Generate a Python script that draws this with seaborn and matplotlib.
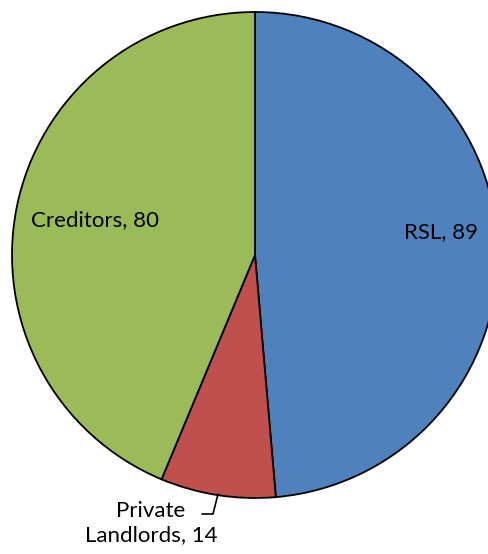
import matplotlib
matplotlib.use("Agg")
import matplotlib.pyplot as plt
import seaborn as sns

# Data
categories = ["RSL", "Private\nLandlords", "Creditors"]
values = [89, 14, 80]
colors = ["#4F81BD", "#C0504D", "#9BBB59"]

sns.set_theme(style="white")
plt.rcParams["font.family"] = ["Lato", "DejaVu Sans"]

fig = plt.figure(figsize=(4.89, 5.54), dpi=100)
ax = fig.add_axes([0, 0, 1, 1])

ax.pie(
    values,
    colors=colors,
    startangle=90,
    counterclock=False,
    center=(255, 299),
    radius=243,
    wedgeprops=dict(edgecolor="black", linewidth=1.3),
    frame=True,
)
ax.set_xlim(0, 489)
ax.set_ylim(0, 554)
ax.set_aspect("equal")
ax.axis("off")

# Labels
ax.text(441, 322, f"{categories[0]}, {values[0]}", ha="center", va="center",
        fontsize=16, color="black")
ax.text(95, 334, f"{categories[2]}, {values[2]}", ha="center", va="center",
        fontsize=16, color="black")
ax.text(151, 31, f"{categories[1]}, {values[1]}", ha="center", va="center",
        fontsize=16, color="black", linespacing=1.3)
ax.plot([218, 213, 202], [60, 40, 40], color="black", linewidth=1.2)

fig.savefig("out.png", dpi=100)
